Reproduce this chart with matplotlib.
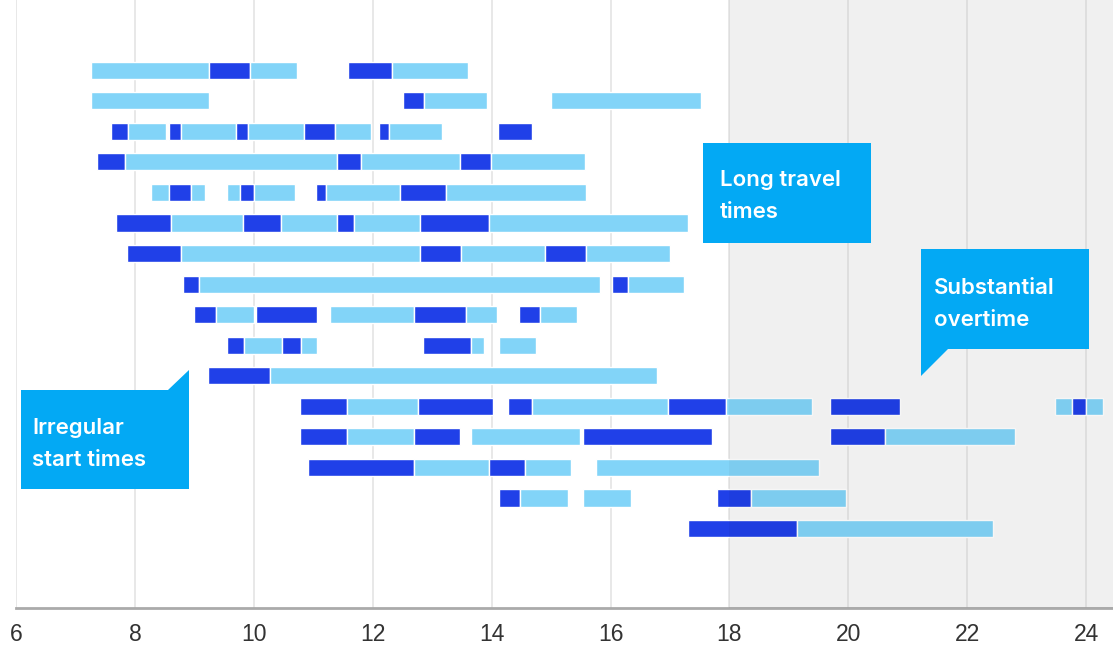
import matplotlib
matplotlib.use("Agg")
import matplotlib.pyplot as plt
from matplotlib.patches import Polygon

# Shift segments per row: (start hour, end hour, kind)
# kind "T" = travel (dark), "W" = work on site (light)
row_01 = [(7.26, 9.25, "W"), (9.25, 9.93, "T"), (9.93, 10.72, "W"), (11.58, 12.32, "T"), (12.32, 13.60, "W")]
row_02 = [(7.26, 9.25, "W"), (12.51, 12.87, "T"), (12.87, 13.92, "W"), (15.00, 17.52, "W")]
row_03 = [(7.60, 7.89, "T"), (7.89, 8.52, "W"), (8.57, 8.78, "T"), (8.78, 9.70, "W"), (9.70, 9.91, "T"),
          (9.91, 10.85, "W"), (10.85, 11.37, "T"), (11.37, 11.97, "W"), (12.10, 12.28, "T"), (12.28, 13.16, "W"),
          (14.11, 14.68, "T")]
row_04 = [(7.36, 7.84, "T"), (7.84, 11.40, "W"), (11.40, 11.81, "T"), (11.81, 13.47, "W"), (13.47, 13.99, "T"),
          (13.99, 15.57, "W")]
row_05 = [(8.27, 8.57, "W"), (8.57, 8.94, "T"), (8.94, 9.18, "W"), (9.55, 9.77, "W"), (9.77, 10.00, "T"),
          (10.00, 10.70, "W"), (11.04, 11.22, "T"), (11.22, 12.46, "W"), (12.46, 13.23, "T"), (13.23, 15.59, "W")]
row_06 = [(7.68, 8.60, "T"), (8.60, 9.82, "W"), (9.82, 10.45, "T"), (10.45, 11.40, "W"), (11.40, 11.69, "T"),
          (11.69, 12.80, "W"), (12.80, 13.95, "T"), (13.95, 17.30, "W")]
row_07 = [(7.87, 8.78, "T"), (8.78, 12.80, "W"), (12.80, 13.48, "T"), (13.48, 14.89, "W"), (14.89, 15.58, "T"),
          (15.58, 17.00, "W")]
row_08 = [(8.81, 9.08, "T"), (9.08, 15.82, "W"), (16.02, 16.30, "T"), (16.30, 17.23, "W")]
row_09 = [(8.99, 9.37, "T"), (9.37, 10.00, "W"), (10.04, 11.06, "T"), (11.28, 12.70, "W"), (12.70, 13.57, "T"),
          (13.57, 14.09, "W"), (14.46, 14.81, "T"), (14.81, 15.44, "W")]
row_10 = [(9.55, 9.83, "T"), (9.83, 10.48, "W"), (10.48, 10.79, "T"), (10.79, 11.06, "W"), (12.84, 13.65, "T"),
          (13.65, 13.87, "W"), (14.12, 14.74, "W")]
row_11 = [(9.23, 10.28, "T"), (10.28, 16.78, "W")]
row_12 = [(10.78, 11.57, "T"), (11.57, 12.77, "W"), (12.77, 14.02, "T"), (14.27, 14.68, "T"), (14.68, 16.96, "W"),
          (16.96, 17.95, "T"), (17.95, 19.39, "W"), (19.69, 20.87, "T"), (23.48, 23.76, "W"), (23.76, 23.99, "T"),
          (23.99, 24.28, "W")]
row_13 = [(10.78, 11.57, "T"), (11.57, 12.70, "W"), (12.70, 13.47, "T"), (13.65, 15.49, "W"), (15.54, 17.71, "T"),
          (19.69, 20.62, "T"), (20.62, 22.80, "W")]
row_14 = [(10.91, 12.69, "T"), (12.69, 13.96, "W"), (13.96, 14.57, "T"), (14.57, 15.34, "W"), (15.75, 19.51, "W")]
row_15 = [(14.12, 14.47, "T"), (14.47, 15.29, "W"), (15.54, 16.35, "W"), (17.79, 18.37, "T"), (18.37, 19.96, "W")]
row_16 = [(17.30, 19.14, "T"), (19.14, 22.43, "W")]

rows = [row_01, row_02, row_03, row_04, row_05, row_06, row_07, row_08,
        row_09, row_10, row_11, row_12, row_13, row_14, row_15, row_16]

hour_ticks = [6, 8, 10, 12, 14, 16, 18, 20, 22, 24]
overtime_from = 18

kind_colors = {"T": "#2040E8", "W": "#82D4F8"}
callout_color = "#03A9F4"

W, H = 1113, 647
fig = plt.figure(figsize=(W / 100, H / 100), dpi=100)
ax = fig.add_axes([16 / W, (H - 608) / H, 1 - 16 / W, 608 / H])

x_max = 6 + (W - 16) / 59.45
ax.set_xlim(6, x_max)
ax.set_ylim(17.6, -2.3)

# overtime band + grid
ax.axvspan(overtime_from, x_max, color="#F9F9F9", zorder=0, lw=0)
for h in hour_ticks:
    ax.axvline(h, color="#E4E4E4", lw=1.2, zorder=1)

for i, segs in enumerate(rows):
    for start, end, kind in segs:
        ax.barh(i, end - start, left=start, height=0.56, color=kind_colors[kind],
                edgecolor="white", linewidth=1.0, zorder=2)

# slight darkening over the bars in the overtime zone
ax.axvspan(overtime_from, x_max, color="black", alpha=0.035, zorder=3, lw=0)

for s in ["top", "right", "left"]:
    ax.spines[s].set_visible(False)
ax.spines["bottom"].set_color("#AAAAAA")
ax.spines["bottom"].set_linewidth(2)
ax.set_yticks([])
ax.set_xticks(hour_ticks)
ax.set_xticklabels([str(h) for h in hour_ticks], fontsize=16.5, color="#333333",
                   family=["Liberation Sans", "DejaVu Sans"])
ax.tick_params(axis="x", length=0, pad=11)

# callouts drawn in pixel space on top of the chart
ov = fig.add_axes([0, 0, 1, 1], zorder=5)
ov.set_xlim(0, W)
ov.set_ylim(H, 0)
ov.axis("off")

callouts = [
    ([(703, 143), (871, 143), (871, 243), (703, 243)], 720, ["Long travel", "times"], 186),
    ([(921, 249), (1089, 249), (1089, 349), (948, 349), (921, 376)], 934, ["Substantial", "overtime"], 294),
    ([(21, 390), (168, 390), (189, 370), (189, 489), (21, 489)], 32, ["Irregular", "start times"], 434),
]
for pts, tx, lines, base in callouts:
    ov.add_patch(Polygon(pts, closed=True, facecolor=callout_color, edgecolor="none"))
    for k, line in enumerate(lines):
        ov.text(tx, base + 32 * k, line, color="white", fontsize=16, fontweight="semibold",
                family=["Inter", "DejaVu Sans"], va="baseline", ha="left")

fig.savefig("out.png", dpi=100)
